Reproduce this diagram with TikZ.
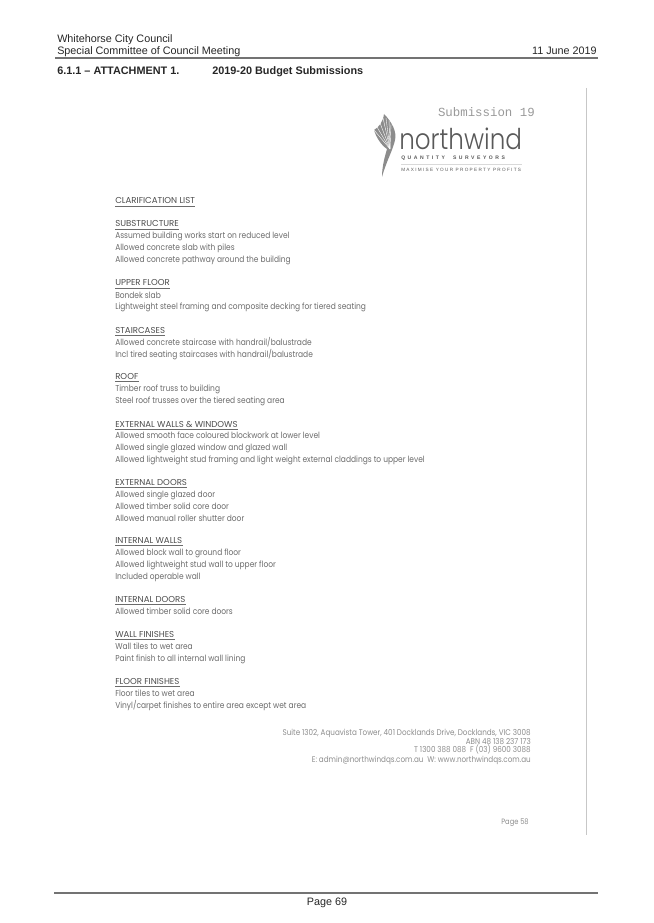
\documentclass[tikz,border=0pt]{standalone}
\usepackage{fontspec}
\setmainfont{Liberation Sans}
\newfontfamily\gothicfont[FakeStretch=0.87]{Poppins}
\newfontfamily\titlefont{Poppins}
\newfontfamily\brandfont[FakeStretch=0.86]{Poppins Light}
\newfontfamily\trackedfont[LetterSpace=50]{Liberation Sans}
\newfontfamily\typedfont{Liberation Mono}
\usetikzlibrary{positioning,calc}
\usepackage{xcolor}
\definecolor{rulegrey}{gray}{0.45}
\definecolor{scangrey}{gray}{0.42}
\definecolor{logogrey}{gray}{0.35}

\begin{document}
\begin{tikzpicture}[
  x=0.75pt, y=-0.75pt,
  pagehead/.style={inner sep=0pt, anchor=base west, font=\fontsize{8.1}{9}\selectfont, text=black!85},
  pagebold/.style={pagehead, font=\fontsize{8.15}{9}\bfseries\selectfont},
  headrule/.style={draw=rulegrey, line width=1.5pt},
  listline/.style={inner sep=0pt, anchor=base west, text=scangrey, font=\gothicfont\fontsize{6.45}{8}\selectfont, text height=5pt, text depth=1.5pt},
  listtitle/.style={listline, text=black!70, font=\titlefont\fontsize{6.45}{8}\selectfont},
  under/.style={draw=scangrey, line width=0.4pt},
  smallprint/.style={inner sep=0pt, anchor=base east, text=black!45, font=\gothicfont\fontsize{6.2}{7}\selectfont},
]
  \useasboundingbox (0,0) rectangle (653,923);
  % page header
  \node[pagehead] (council) at (57,43) {Whitehorse City Council};
  \node[pagehead] (meeting) at (57,55) {Special Committee of Council Meeting};
  \node[pagehead, anchor=base east] (date) at (597,55) {11 June 2019};
  \coordinate (headl) at (55,58);
  \coordinate (headr) at (598,58);
  \draw[headrule] (headl) -- (headr);
  \node[pagebold] (attach) at (57,74.5) {6.1.1 -- ATTACHMENT 1.};
  \node[pagebold] (budget) at (212,74.5) {2019-20 Budget Submissions};

  % scanned sheet edge
  \coordinate (edgetop) at (586,88);
  \coordinate (edgebot) at (586,835);
  \draw[draw=black!22, line width=0.75pt] (edgetop) -- (edgebot);

  % logo
  \node[inner sep=0pt, anchor=base east, text=black!40, font=\typedfont\fontsize{9.3}{10}\selectfont] (subm) at (535,117) {Submission 19};
  \node[inner sep=0pt, anchor=base west, text=logogrey, font=\brandfont\fontsize{21.5}{22}\selectfont] (brand) at (399,150) {northwind};
  \node[inner sep=0pt, anchor=base west, text=logogrey, font=\trackedfont\bfseries\fontsize{3.8}{4}\selectfont] (qs) at (401,159.5) {QUANTITY\hspace{1.6em}SURVEYORS};
  \coordinate (hairl) at (401,164);
  \coordinate (hairr) at (522,164);
  \draw[draw=black!15, line width=0.3pt] (hairl) -- (hairr);
  \node[inner sep=0pt, anchor=base west, text=logogrey, font=\fontsize{3.5}{4}\selectfont] (maxi) at (401,172) {M A X I M I S E \ Y O U R \ P R O P E R T Y \ P R O F I T S};
  \fill[black!45] (384,114) .. controls (392,122) and (397,132) .. (395,140)
     .. controls (393,150) and (386,162) .. (382,177)
     .. controls (382,166) and (385,156) .. (387,149)
     .. controls (381,145) and (376,137) .. (374,130)
     .. controls (379,127) and (383,122) .. (384,114) -- cycle;
  \foreach \tipx/\tipy in {374/130,377/127,380/123,383/118,386/118,389/120,391/124}
    \draw[white, line width=0.3pt] (390,149) -- (\tipx,\tipy);

  % clarification list
  \node[listtitle] (clar) at (115,204) {CLARIFICATION LIST};
  \node[listtitle] (subst) at (115,227) {SUBSTRUCTURE};
  \node[listline] (s1) at (115,239) {Assumed building works start on reduced level};
  \node[listline] (s2) at (115,251) {Allowed concrete slab with piles};
  \node[listline] (s3) at (115,263) {Allowed concrete pathway around the building};
  \node[listtitle] (upper) at (115,286) {UPPER FLOOR};
  \node[listline] (u1) at (115,298) {Bondek slab};
  \node[listline] (u2) at (115,310) {Lightweight steel framing and composite decking for tiered seating};
  \node[listtitle] (stair) at (115,333) {STAIRCASES};
  \node[listline] (c1) at (115,345) {Allowed concrete staircase with handrail/balustrade};
  \node[listline] (c2) at (115,357) {Incl tired seating staircases with handrail/balustrade};
  \node[listtitle] (roof) at (115,379) {ROOF};
  \node[listline] (r1) at (115,391) {Timber roof truss to building};
  \node[listline] (r2) at (115,403) {Steel roof trusses over the tiered seating area};
  \node[listtitle] (extw) at (115,427) {EXTERNAL WALLS \& WINDOWS};
  \node[listline] (e1) at (115,438) {Allowed smooth face coloured blockwork at lower level};
  \node[listline] (e2) at (115,450) {Allowed single glazed window and glazed wall};
  \node[listline] (e3) at (115,462) {Allowed lightweight stud framing and light weight external claddings to upper level};
  \node[listtitle] (extd) at (115,485) {EXTERNAL DOORS};
  \node[listline] (d1) at (115,497) {Allowed single glazed door};
  \node[listline] (d2) at (115,509) {Allowed timber solid core door};
  \node[listline] (d3) at (115,521) {Allowed manual roller shutter door};
  \node[listtitle] (intw) at (115,543) {INTERNAL WALLS};
  \node[listline] (w1) at (115,555) {Allowed block wall to ground floor};
  \node[listline] (w2) at (115,567) {Allowed lightweight stud wall to upper floor};
  \node[listline] (w3) at (115,579) {Included operable wall};
  \node[listtitle] (intd) at (115,602) {INTERNAL DOORS};
  \node[listline] (i1) at (115,614) {Allowed timber solid core doors};
  \node[listtitle] (wallf) at (115,637) {WALL FINISHES};
  \node[listline] (f1) at (115,649) {Wall tiles to wet area};
  \node[listline] (f2) at (115,661) {Paint finish to all internal wall lining};
  \node[listtitle] (floorf) at (115,684) {FLOOR FINISHES};
  \node[listline] (g1) at (115,696) {Floor tiles to wet area};
  \node[listline] (g2) at (115,708) {Vinyl/carpet finishes to entire area except wet area};
  \foreach \head in {clar,subst,upper,stair,roof,extw,extd,intw,intd,wallf,floorf}
    \draw[under] (\head.south west) -- (\head.south east);

  % address block
  \node[smallprint] (addr1) at (531,735) {Suite 1302, Aquavista Tower, 401 Docklands Drive, Docklands, VIC 3008};
  \node[smallprint] (addr2) at (531,744) {ABN 48 138 237 173};
  \node[smallprint] (addr3) at (531,752) {T 1300 388 088 \ F (03) 9600 3088};
  \node[smallprint] (addr4) at (531,762) {E: admin@northwindqs.com.au \ W: www.northwindqs.com.au};
  \node[smallprint, font=\gothicfont\fontsize{5.8}{7}\selectfont] (scanpage) at (529,824) {Page 58};

  % page footer
  \coordinate (footl) at (54,893);
  \coordinate (footr) at (598,893);
  \draw[headrule] (footl) -- (footr);
  \node[pagehead, anchor=base] (pagenum) at (327,905) {Page 69};
\end{tikzpicture}
\end{document}
